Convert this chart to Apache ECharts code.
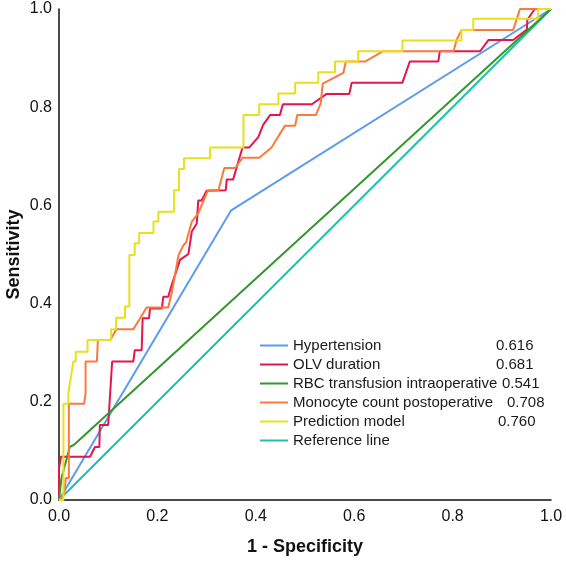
<!DOCTYPE html>
<html>
<head>
<meta charset="utf-8">
<script src="https://cdn.jsdelivr.net/npm/echarts@6/dist/echarts.min.js"></script>
<style>
  html, body { margin: 0; padding: 0; background: #fff; }
  #chart { width: 566px; height: 561px; }
</style>
</head>
<body>
<div id="chart"></div>
<script>
// ROC curves, points are [1 - specificity, sensitivity]
const seriesNames = [
  'Hypertension',
  'OLV duration',
  'RBC transfusion intraoperative',
  'Monocyte count postoperative',
  'Prediction model',
  'Reference line'
]
const aucValues = ['0.616', '0.681', '0.541', '0.708', '0.760', '']
const axisTicks = [0, 0.2, 0.4, 0.6, 0.8, 1.0]

const hypertension = [[0, 0], [0.35, 0.59], [1, 1]]

const olvDuration = [
  [0, 0], [0, 0.065], [0.004, 0.065], [0.004, 0.088], [0.063, 0.088], [0.073, 0.108],
  [0.082, 0.108], [0.083, 0.153], [0.10, 0.153], [0.108, 0.282], [0.151, 0.282],
  [0.154, 0.305], [0.168, 0.305], [0.17, 0.37], [0.183, 0.37], [0.185, 0.39],
  [0.209, 0.39], [0.212, 0.414], [0.222, 0.414], [0.229, 0.438], [0.246, 0.489],
  [0.263, 0.501], [0.27, 0.547], [0.28, 0.563], [0.283, 0.61], [0.29, 0.61],
  [0.30, 0.63], [0.339, 0.631], [0.341, 0.653], [0.354, 0.653], [0.373, 0.718],
  [0.387, 0.718], [0.405, 0.739], [0.415, 0.764], [0.429, 0.784], [0.449, 0.784],
  [0.455, 0.806], [0.514, 0.806], [0.544, 0.827], [0.590, 0.827], [0.595, 0.85],
  [0.698, 0.85], [0.713, 0.893], [0.771, 0.893], [0.774, 0.914], [0.856, 0.914],
  [0.873, 0.937], [0.923, 0.937], [0.951, 0.958], [0.952, 0.978], [0.967, 1.0], [1, 1]
]

const rbcTransfusion = [[0, 0], [0.005, 0.045], [0.022, 0.108], [0.03, 0.112], [1, 1]]

const monocyteCount = [
  [0, 0], [0.01, 0.01], [0.014, 0.045], [0.02, 0.045], [0.02, 0.196], [0.051, 0.196],
  [0.054, 0.217], [0.054, 0.282], [0.077, 0.282], [0.079, 0.326], [0.104, 0.326],
  [0.117, 0.348], [0.151, 0.348], [0.165, 0.37], [0.178, 0.392], [0.222, 0.392],
  [0.229, 0.421], [0.243, 0.499], [0.253, 0.519], [0.258, 0.524], [0.27, 0.567],
  [0.283, 0.584], [0.303, 0.631], [0.324, 0.631], [0.336, 0.676], [0.358, 0.676],
  [0.373, 0.697], [0.407, 0.697], [0.432, 0.718], [0.459, 0.762], [0.48, 0.762],
  [0.484, 0.784], [0.522, 0.784], [0.532, 0.808], [0.536, 0.848], [0.578, 0.870],
  [0.583, 0.893], [0.622, 0.893], [0.659, 0.914], [0.802, 0.914], [0.808, 0.937],
  [0.818, 0.957], [0.923, 0.957], [0.937, 1.0], [1, 1]
]

const predictionModel = [
  [0, 0], [0.009, 0], [0.009, 0.196], [0.019, 0.196], [0.019, 0.217], [0.022, 0.217],
  [0.022, 0.238], [0.026, 0.238], [0.026, 0.261], [0.029, 0.261], [0.029, 0.282],
  [0.034, 0.282], [0.034, 0.302], [0.058, 0.302], [0.058, 0.326], [0.106, 0.326],
  [0.106, 0.348], [0.116, 0.348], [0.116, 0.371], [0.134, 0.371], [0.134, 0.394],
  [0.143, 0.394], [0.143, 0.499], [0.154, 0.499], [0.154, 0.523], [0.163, 0.523],
  [0.163, 0.544], [0.192, 0.544], [0.192, 0.567], [0.202, 0.567], [0.202, 0.587],
  [0.234, 0.587], [0.234, 0.631], [0.244, 0.631], [0.244, 0.674], [0.254, 0.674],
  [0.254, 0.696], [0.307, 0.696], [0.307, 0.718], [0.375, 0.718], [0.375, 0.784],
  [0.407, 0.784], [0.407, 0.806], [0.446, 0.806], [0.446, 0.828], [0.48, 0.828],
  [0.48, 0.85], [0.527, 0.85], [0.527, 0.871], [0.561, 0.871], [0.561, 0.893],
  [0.608, 0.893], [0.608, 0.914], [0.698, 0.914], [0.698, 0.936], [0.818, 0.936],
  [0.818, 0.957], [0.842, 0.957], [0.842, 0.98], [0.974, 0.98], [0.974, 1.0], [1, 1]
]

const referenceLine = [[0, 0], [1, 1]]

const seriesData = [hypertension, olvDuration, rbcTransfusion, monocyteCount, predictionModel, referenceLine]
const colors = ['#5b9cf0', '#e3164f', '#35962c', '#fa7a3c', '#e8e01c', '#1fc0ac']
// where each AUC value starts, measured from the start of the legend text
const nameWidths = [203, 203, 209, 214, 205, 0]

const FONT = 'Liberation Sans, Arial, sans-serif'
const chart = echarts.init(document.getElementById('chart'))

const rich = { v: { fontSize: 15, color: '#1a1a1a', fontFamily: FONT, lineHeight: 15 } }
nameWidths.forEach((w, i) => {
  rich['n' + i] = { width: w, fontSize: 15, color: '#1a1a1a', fontFamily: FONT, lineHeight: 15 }
})

const axisCommon = {
  type: 'value',
  min: 0,
  max: 1,
  interval: 0.2,
  nameLocation: 'middle',
  nameMoveOverlap: false,
  nameTextStyle: { fontSize: 18, fontWeight: 'bold', color: '#111', fontFamily: FONT },
  axisLine: { show: true, lineStyle: { color: '#111', width: 1.5 } },
  axisTick: { show: false },
  splitLine: { show: false },
  axisLabel: {
    fontSize: 16,
    color: '#111',
    fontFamily: FONT,
    formatter: v => (axisTicks.some(t => Math.abs(t - v) < 1e-9) ? v.toFixed(1) : '')
  }
}

const option = {
  animation: false,
  backgroundColor: '#fff',
  grid: { left: 59, right: 15, top: 9, bottom: 61, containLabel: false, outerBoundsMode: 'none' },
  xAxis: Object.assign({}, axisCommon, {
    name: '1 - Specificity',
    nameGap: 38,
    axisLabel: Object.assign({}, axisCommon.axisLabel, { margin: 9 })
  }),
  yAxis: Object.assign({}, axisCommon, {
    name: 'Sensitivity',
    nameGap: 36,
    axisLabel: Object.assign({}, axisCommon.axisLabel, { margin: 7 })
  }),
  legend: {
    orient: 'vertical',
    left: 260,
    top: 338,
    padding: 0,
    icon: 'rect',
    itemWidth: 28,
    itemHeight: 2,
    itemGap: 4,
    data: seriesNames,
    textStyle: { fontSize: 15, color: '#1a1a1a', lineHeight: 15, rich: rich },
    formatter: name => {
      const i = seriesNames.indexOf(name)
      return aucValues[i] ? '{n' + i + '|' + name + '}{v|' + aucValues[i] + '}' : '{v|' + name + '}'
    }
  },
  series: seriesNames.map((name, i) => ({
    name: name,
    type: 'line',
    data: seriesData[i],
    symbol: 'none',
    z: i === 5 ? 1 : 2 + i,
    lineStyle: { color: colors[i], width: 2 },
    itemStyle: { color: colors[i] }
  }))
}

chart.setOption(option)
</script>
</body>
</html>
